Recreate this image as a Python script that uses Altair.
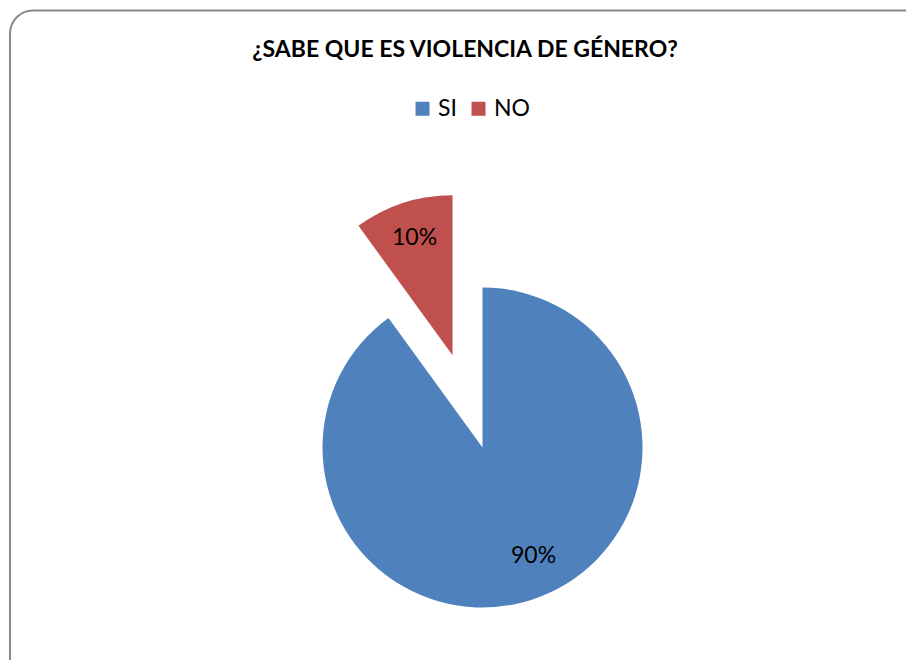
import math
import altair as alt
import pandas as pd

# ---- data ----
categories = ["SI", "NO"]
values = [90, 10]
labels = ["90%", "10%"]
colors = ["#4F81BD", "#C0504D"]
title_text = "¿SABE QUE ES VIOLENCIA DE GÉNERO?"

# ---- layout / style constants ----
FONT = "Lato"
CX, CY = 474.5, 379.5      # pie centre in view coordinates
R = 160                     # pie radius
LABEL_R = 120               # label distance from centre
EXPLODE = 97                # distance the exploded slice is pulled out
EXPLODED = "NO"

df = pd.DataFrame({"cat": categories, "value": values, "label": labels})
total = float(sum(values))
starts, acc = [], 0.0
for v in values:
    starts.append(acc)
    acc += v
df["start"] = starts
df["end"] = df["start"] + df["value"]
df["mid"] = (df["start"] + df["end"]) / 2

mid_exp = float(df.loc[df.cat == EXPLODED, "mid"].iloc[0]) / total * 2 * math.pi
DX = EXPLODE * math.sin(mid_exp)
DY = -EXPLODE * math.cos(mid_exp)

theta_scale = alt.Scale(domain=[0, total], range=[0, 2 * math.pi])
color_enc = alt.Color(
    "cat:N",
    scale=alt.Scale(domain=categories, range=colors),
    legend=alt.Legend(
        orient="none", legendX=403, legendY=29, direction="horizontal",
        title=None, symbolType="square", symbolSize=196, symbolStrokeWidth=0,
        labelFont=FONT, labelFontSize=23, labelColor="#000000",
        labelOffset=4, columnPadding=10, padding=0,
    ),
)

base = alt.Chart(df)

border = alt.Chart(alt.Data(values=[{}])).mark_rect(
    cornerRadius=23, fillOpacity=0, stroke="#8a8a8a", strokeWidth=2
).encode(x=alt.value(2), x2=alt.value(925), y=alt.value(-57.5), y2=alt.value(620))

title = alt.Chart(alt.Data(values=[{"t": title_text}])).mark_text(
    font=FONT, fontSize=23, fontWeight="bold", color="#000000",
    align="center", baseline="alphabetic",
).encode(x=alt.value(457), y=alt.value(-11), text="t:N")

slice_main = base.transform_filter(alt.datum.cat != EXPLODED).mark_arc(
    radius=R, x=CX, y=CY
).encode(
    theta=alt.Theta("start:Q", scale=theta_scale),
    theta2="end:Q",
    color=color_enc,
)
slice_exp = base.transform_filter(alt.datum.cat == EXPLODED).mark_arc(
    radius=R, x=CX + DX, y=CY + DY
).encode(
    theta=alt.Theta("start:Q", scale=theta_scale),
    theta2="end:Q",
    color=color_enc,
)

text_main = base.transform_filter(alt.datum.cat != EXPLODED).mark_text(
    radius=LABEL_R, x=CX, y=CY, font=FONT, fontSize=23, color="#000000",
    dx=14, dy=-6,
).encode(theta=alt.Theta("mid:Q", scale=theta_scale), text="label:N")
text_exp = base.transform_filter(alt.datum.cat == EXPLODED).mark_text(
    radius=LABEL_R + 3, x=CX + DX, y=CY + DY, font=FONT, fontSize=23, color="#000000",
).encode(theta=alt.Theta("mid:Q", scale=theta_scale), text="label:N")

chart = alt.layer(border, title, slice_main, slice_exp, text_main, text_exp).properties(
    width=898, height=592,
    padding={"top": 60, "left": 0, "right": 0, "bottom": 0},
    autosize=alt.AutoSizeParams(type="none"),
).configure_view(stroke=None)

chart.save("out.html", embed_options={"renderer": "svg", "actions": False})
